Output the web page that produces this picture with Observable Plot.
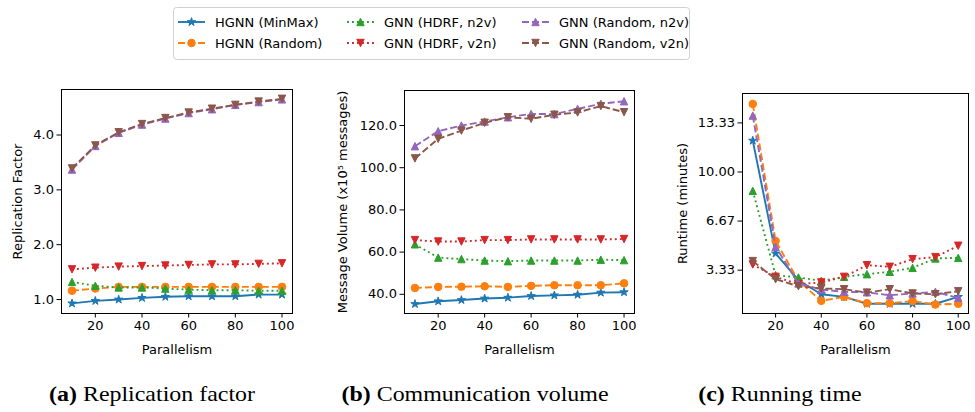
<!DOCTYPE html>
<html>
<head>
<meta charset="utf-8">
<script src="https://cdn.jsdelivr.net/npm/d3@7"></script>
<script src="https://cdn.jsdelivr.net/npm/@observablehq/plot@0.6"></script>
<style>
  body { margin: 0; background: #fff; }
  #fig { position: relative; width: 975px; height: 412px; overflow: hidden; background: #fff; }
</style>
</head>
<body>
<div id="fig"></div>
<script>
// Parallelism levels (x axis) shared by the three panels
const parallelism = [10, 20, 30, 40, 50, 60, 70, 80, 90, 100];
const xTicks = [20, 40, 60, 80, 100];
const xLabel = "Parallelism";

const seriesNames = [
  "HGNN (MinMax)", "HGNN (Random)",
  "GNN (HDRF, n2v)", "GNN (HDRF, v2n)",
  "GNN (Random, n2v)", "GNN (Random, v2n)"
];

// (a) replication factor
const rfMinMax    = [0.93, 0.975, 1.00, 1.03, 1.05, 1.06, 1.06, 1.06, 1.09, 1.09];
const rfRandom    = [1.16, 1.20, 1.23, 1.23, 1.23, 1.23, 1.23, 1.23, 1.23, 1.23];
const rfHdrfN2v   = [1.32, 1.25, 1.22, 1.22, 1.20, 1.18, 1.17, 1.17, 1.16, 1.16];
const rfHdrfV2n   = [1.55, 1.58, 1.60, 1.61, 1.62, 1.63, 1.64, 1.64, 1.65, 1.66];
const rfRandomN2v = [3.37, 3.80, 4.04, 4.19, 4.30, 4.40, 4.47, 4.55, 4.60, 4.65];
const rfRandomV2n = [3.39, 3.81, 4.05, 4.20, 4.31, 4.41, 4.48, 4.55, 4.61, 4.66];
const rfTicks = [1, 2, 3, 4];

// (b) communication volume, x10^5 messages
const cvMinMax    = [35.4, 36.7, 37.3, 38.0, 38.4, 39.2, 39.5, 39.8, 40.8, 41.0];
const cvRandom    = [43.0, 43.5, 43.6, 43.8, 43.5, 44.0, 44.3, 44.3, 44.3, 45.2];
const cvHdrfN2v   = [63.7, 57.4, 56.7, 56.0, 55.7, 56.0, 56.0, 56.0, 56.4, 56.2];
const cvHdrfV2n   = [65.7, 65.0, 65.0, 65.7, 65.7, 66.0, 66.0, 66.0, 66.0, 66.2];
const cvRandomN2v = [110.2, 117.3, 120.0, 121.9, 123.9, 125.5, 125.4, 127.9, 130.3, 131.5];
const cvRandomV2n = [104.4, 113.7, 117.6, 121.3, 123.9, 123.2, 125.1, 126.2, 129.2, 126.3];
const cvTicks = [40, 60, 80, 100, 120];

// (c) running time, minutes
const rtMinMax    = [12.13, 4.47, 2.65, 1.70, 1.52, 1.05, 1.05, 1.05, 1.05, 1.52];
const rtRandom    = [14.62, 5.32, 2.60, 1.25, 1.52, 1.09, 1.09, 1.23, 1.00, 1.05];
const rtHdrfN2v   = [8.72, 2.99, 2.84, 2.61, 2.88, 3.06, 3.22, 3.49, 4.13, 4.17];
const rtHdrfV2n   = [3.72, 2.88, 2.38, 2.50, 2.88, 3.67, 3.56, 4.08, 4.22, 4.99];
const rtRandomN2v = [13.83, 4.92, 2.43, 2.02, 1.86, 1.83, 1.63, 1.75, 1.86, 1.45];
const rtRandomV2n = [3.95, 2.72, 2.24, 2.09, 2.04, 1.81, 2.04, 1.75, 1.70, 1.90];
const rtTicks = [10 / 3, 20 / 3, 10, 40 / 3];

const captions = [
  {tag: "(a)", text: "Replication factor"},
  {tag: "(b)", text: "Communication volume"},
  {tag: "(c)", text: "Running time"}
];

// ---- styling ----
const seriesColors = ["#1f77b4", "#ff7f0e", "#2ca02c", "#d62728", "#9467bd", "#8c564b"];
const DASHED = "7,3", DOTTED = "1.9,3.1";
const dashStyles = [null, DASHED, DOTTED, DOTTED, DASHED, DASHED];
const sansFont = "DejaVu Sans";
const fontPx = 13;

// marker shapes; size is the area, r = sqrt(size / PI)
const starSymbol = {
  draw(ctx, size) {
    const R = Math.sqrt(size / Math.PI) * 1.12, r = R * 0.382;
    for (let i = 0; i < 10; i++) {
      const a = -Math.PI / 2 + i * Math.PI / 5, rad = i % 2 ? r : R;
      const px = rad * Math.cos(a), py = rad * Math.sin(a);
      i ? ctx.lineTo(px, py) : ctx.moveTo(px, py);
    }
    ctx.closePath();
  }
};
const triUpSymbol = {
  draw(ctx, size) {
    const r = Math.sqrt(size / Math.PI);
    ctx.moveTo(0, -r); ctx.lineTo(r, r); ctx.lineTo(-r, r); ctx.closePath();
  }
};
const triDownSymbol = {
  draw(ctx, size) {
    const r = Math.sqrt(size / Math.PI);
    ctx.moveTo(0, r); ctx.lineTo(r, -r); ctx.lineTo(-r, -r); ctx.closePath();
  }
};
const markerSymbols = [starSymbol, d3.symbolCircle, triUpSymbol, triDownSymbol, triUpSymbol, triDownSymbol];
const markerR = [3.9, 3.8, 3.7, 3.7, 3.7, 3.7];

const fig = document.getElementById("fig");

function panel({values, yDomain, yTicks, yFormat, yLabel, left, width, margin, yLabelDx}) {
  const rows = values.flatMap((vals, s) => vals.map((v, i) => ({p: parallelism[i], v, s})));
  const marks = [
    Plot.frame({stroke: "black", strokeWidth: 1}),
    Plot.axisX({ticks: xTicks, tickSize: 4.5, tickPadding: 3, label: null, strokeWidth: 1}),
    Plot.axisY({ticks: yTicks, tickFormat: yFormat, tickSize: 4.5, tickPadding: 3, label: null, strokeWidth: 1}),
    Plot.text([xLabel], {frameAnchor: "bottom", dy: 36, textAnchor: "middle", lineAnchor: "middle", text: d => d}),
    Plot.text([yLabel], {frameAnchor: "left", dx: yLabelDx, rotate: -90, textAnchor: "middle", lineAnchor: "middle", text: d => d})
  ];
  seriesNames.forEach((name, s) => {
    const data = rows.filter(d => d.s === s);
    marks.push(Plot.line(data, {
      x: "p", y: "v", stroke: seriesColors[s], strokeWidth: 1.9,
      strokeDasharray: dashStyles[s] ?? undefined, strokeLinecap: "butt"
    }));
    marks.push(Plot.dot(data, {
      x: "p", y: "v", fill: seriesColors[s], stroke: seriesColors[s], strokeWidth: 1,
      r: markerR[s], symbol: markerSymbols[s]
    }));
  });
  const svg = Plot.plot({
    width, height: 412,
    marginLeft: margin[0], marginRight: margin[1], marginTop: margin[2], marginBottom: margin[3],
    x: {domain: [5.5, 104.5]},
    y: {domain: yDomain},
    style: {fontFamily: sansFont, fontSize: fontPx + "px", color: "black", background: "transparent", overflow: "visible"},
    marks
  });
  svg.style.position = "absolute";
  svg.style.left = left + "px";
  svg.style.top = "0px";
  fig.append(svg);
}

panel({
  values: [rfMinMax, rfRandom, rfHdrfN2v, rfHdrfV2n, rfRandomN2v, rfRandomV2n],
  yDomain: [0.745, 4.83], yTicks: rfTicks, yFormat: d3.format(".1f"),
  yLabel: "Replication Factor", left: 0, width: 320, margin: [61, 28, 89, 99], yLabelDx: -44
});
panel({
  values: [cvMinMax, cvRandom, cvHdrfN2v, cvHdrfV2n, cvRandomN2v, cvRandomV2n],
  yDomain: [30.9, 136.6], yTicks: cvTicks, yFormat: d3.format(".1f"),
  yLabel: "Message Volume (x10\u2075 messages)", left: 320, width: 330, margin: [84, 16, 90, 99], yLabelDx: -62
});
panel({
  values: [rtMinMax, rtRandom, rtHdrfN2v, rtHdrfV2n, rtRandomN2v, rtRandomV2n],
  yDomain: [0.39, 15.33], yTicks: rtTicks, yFormat: d3.format(".2f"),
  yLabel: "Runtime (minutes)", left: 650, width: 325, margin: [92, 7, 93, 99], yLabelDx: -60
});

// ---- shared legend and panel captions ----
const overlay = d3.select(fig).append("svg")
  .attr("width", 975).attr("height", 412)
  .style("position", "absolute").style("left", "0px").style("top", "0px")
  .style("pointer-events", "none");

const lg = overlay.append("g");
lg.append("rect")
  .attr("x", 173.5).attr("y", 7.5).attr("width", 516).attr("height", 52).attr("rx", 3)
  .attr("fill", "white").attr("stroke", "#d0d0d0").attr("stroke-width", 1);
const legendCols = [178, 347, 522];
const legendRows = [22, 43];
seriesNames.forEach((name, s) => {
  const x0 = legendCols[Math.floor(s / 2)], y = legendRows[s % 2];
  lg.append("line")
    .attr("x1", x0).attr("x2", x0 + 27).attr("y1", y).attr("y2", y)
    .attr("stroke", seriesColors[s]).attr("stroke-width", 1.9)
    .attr("stroke-dasharray", dashStyles[s]).attr("stroke-linecap", "butt");
  lg.append("path")
    .attr("d", d3.symbol(markerSymbols[s], Math.PI * markerR[s] * markerR[s])())
    .attr("transform", `translate(${x0 + 13.5},${y})`)
    .attr("fill", seriesColors[s]).attr("stroke", seriesColors[s]).attr("stroke-width", 1);
  lg.append("text")
    .attr("x", x0 + 37).attr("y", y).attr("dy", "0.36em")
    .attr("font-family", sansFont).attr("font-size", fontPx).attr("fill", "black")
    .text(name);
});

const captionX = [152, 475, 780];
captions.forEach((c, i) => {
  const t = overlay.append("text")
    .attr("transform", `translate(${captionX[i]},401) scale(1.14,1)`)
    .attr("text-anchor", "middle")
    .attr("font-family", "Liberation Serif").attr("font-size", 21).attr("fill", "black");
  t.append("tspan").attr("font-weight", "bold").text(c.tag);
  t.append("tspan").text(" " + c.text);
});
</script>
</body>
</html>
